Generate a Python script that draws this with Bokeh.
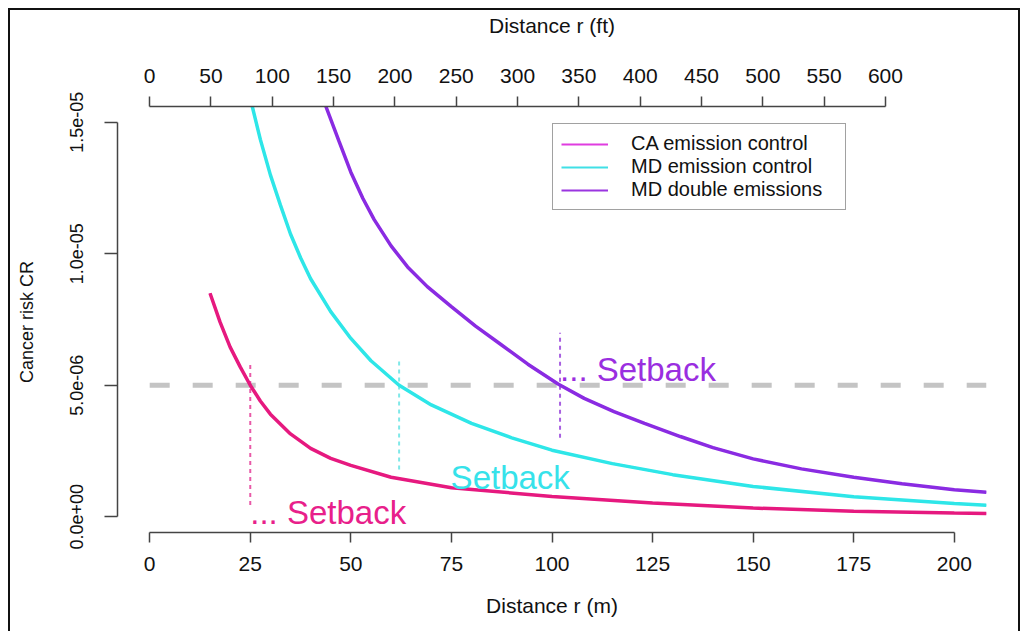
import math
from bokeh.plotting import figure
from bokeh.models import (Range1d, LinearAxis, FixedTicker, CustomJSTickFormatter,
                          Legend, LegendItem, ColumnDataSource)
from bokeh.embed import file_html
from bokeh.resources import INLINE
from bokeh.core.properties import value

# ---------------- data ----------------
r_ca = [15, 17.5, 20, 22.5, 25, 27.5, 30, 35, 40, 45, 50, 60, 75, 100, 125, 150, 175, 200, 208]
cr_ca = [8.5e-6, 7.4e-6, 6.45e-6, 5.7e-6, 5.0e-6, 4.4e-6, 3.9e-6, 3.15e-6, 2.6e-6, 2.22e-6,
         1.95e-6, 1.5e-6, 1.1e-6, 0.77e-6, 0.52e-6, 0.33e-6, 0.21e-6, 0.14e-6, 0.12e-6]

r_md = [25.5, 27.5, 30, 32.5, 35, 37.5, 40, 45, 50, 55, 62, 70, 80, 90, 100, 115, 130, 150,
        175, 200, 208]
cr_md = [15.6e-6, 14.35e-6, 13.0e-6, 11.85e-6, 10.75e-6, 9.85e-6, 9.05e-6, 7.8e-6, 6.78e-6,
         5.93e-6, 5.0e-6, 4.25e-6, 3.55e-6, 3.0e-6, 2.53e-6, 2.02e-6, 1.6e-6, 1.15e-6,
         0.76e-6, 0.5e-6, 0.44e-6]

r_dbl = [43.8, 47, 50, 53, 55.8, 60, 64.1, 69, 74.9, 81, 87.3, 94, 101.5, 108, 115.4, 123,
         131.9, 140, 150, 162, 175, 187, 200, 208]
cr_dbl = [15.6e-6, 14.3e-6, 13.1e-6, 12.1e-6, 11.3e-6, 10.3e-6, 9.5e-6, 8.75e-6, 8.0e-6,
          7.25e-6, 6.55e-6, 5.8e-6, 5.05e-6, 4.5e-6, 4.0e-6, 3.55e-6, 3.05e-6, 2.63e-6,
          2.2e-6, 1.82e-6, 1.5e-6, 1.25e-6, 1.03e-6, 0.93e-6]

series_names = ["CA emission control", "MD emission control", "MD double emissions"]
threshold = 5e-6
setback_r = [25, 62, 102]
setback_top = [5.85e-6, 5.9e-6, 7.0e-6]
setback_bottom = [0.45e-6, 1.8e-6, 3.0e-6]
setback_text = ["... Setback", "Setback", "... Setback"]
setback_label_x = [25, 74.8, 102]
setback_label_y = [0.15e-6, 1.5e-6, 5.6e-6]

m_ticks = [0, 25, 50, 75, 100, 125, 150, 175, 200]
ft_ticks = list(range(0, 601, 50))
cr_ticks = [0, 5e-6, 1e-5, 1.5e-5]
FT_PER_M = 3.28084

# ---------------- styles ----------------
curve_colors = ["#E6197F", "#2EE6E8", "#8A2BE2"]
legend_colors = ["#E03CE0", "#40E0E6", "#9A35E0"]
text_colors = ["#E8208A", "#36E2EA", "#9A2EE0"]
dot_colors = ["#E85AA8", "#7FE8E8", "#A860E0"]
FONT = "Liberation Sans"

p = figure(width=1012, height=623,
           x_range=Range1d(-8, 208), y_range=Range1d(-0.6e-6, 15.6e-6),
           output_backend="svg", toolbar_location=None,
           x_axis_location=None, y_axis_location=None,
           min_border_left=107, min_border_right=36,
           min_border_top=87, min_border_bottom=101)
p.outline_line_color = None
p.xgrid.visible = False
p.ygrid.visible = False
p.styles = {"margin-left": "8px", "margin-top": "8px",
            "border-left": "2px solid #111", "border-top": "2px solid #111",
            "border-right": "2px solid #111"}

p.extra_x_ranges = {"ft": Range1d(-8 * FT_PER_M, 208 * FT_PER_M)}


def style_axis(ax, tick_out=10, label_size="21px", title_size="21px"):
    ax.axis_line_color = "#444"
    ax.axis_line_width = 1.5
    ax.major_tick_line_color = "#444"
    ax.major_tick_line_width = 1.5
    ax.major_tick_in = 0
    ax.major_tick_out = tick_out
    ax.minor_tick_in = 0
    ax.minor_tick_out = 0
    ax.major_label_text_font = FONT
    ax.major_label_text_font_size = label_size
    ax.major_label_text_color = "#111"
    ax.axis_label_text_font = FONT
    ax.axis_label_text_font_size = title_size
    ax.axis_label_text_font_style = "normal"
    ax.axis_label_text_color = "#111"


xb = LinearAxis(axis_label="Distance r (m)", ticker=FixedTicker(ticks=m_ticks), bounds=(0, 200))
style_axis(xb)
xb.major_label_standoff = 14
xb.axis_label_standoff = 20
p.add_layout(xb, "below")

xt = LinearAxis(x_range_name="ft", axis_label="Distance r (ft)",
                ticker=FixedTicker(ticks=ft_ticks), bounds=(0, 600))
style_axis(xt)
xt.major_label_standoff = 14
xt.axis_label_standoff = 29
p.add_layout(xt, "above")

fmt = CustomJSTickFormatter(code="""
const s = tick.toExponential(1);
const m = s.match(/^(-?[0-9.]+)e([+-])([0-9]+)$/);
if (!m) return s;
let e = m[3];
if (e.length < 2) e = "0" + e;
return m[1] + "e" + m[2] + e;
""")
yl = LinearAxis(axis_label="Cancer risk  CR", ticker=FixedTicker(ticks=cr_ticks),
                bounds=(0, 1.5e-5), formatter=fmt)
style_axis(yl, tick_out=13, label_size="18px", title_size="18px")
yl.major_label_orientation = "parallel"
yl.major_label_standoff = 21
yl.axis_label_standoff = 31
p.add_layout(yl, "left")

# threshold dashed line
p.segment(x0=[0], y0=[threshold], x1=[208], y1=[threshold],
          line_color="#C4C4C4", line_width=5, line_dash="20 23")

# setback dotted lines
p.segment(x0=setback_r, y0=setback_bottom, x1=setback_r, y1=setback_top,
          line_color=dot_colors, line_width=2, line_dash="4 4")

# legend proxies (drawn underneath the real curves, carry the legend colours)
proxies = [
    p.line(r_ca, cr_ca, line_color=legend_colors[0], line_width=2),
    p.line(r_md, cr_md, line_color=legend_colors[1], line_width=2),
    p.line(r_dbl, cr_dbl, line_color=legend_colors[2], line_width=2),
]

# curves
p.line(r_ca, cr_ca, line_color=curve_colors[0], line_width=3.5)
p.line(r_md, cr_md, line_color=curve_colors[1], line_width=3.5)
p.line(r_dbl, cr_dbl, line_color=curve_colors[2], line_width=3.5)

# setback labels
src = ColumnDataSource(dict(x=setback_label_x, y=setback_label_y, t=setback_text, c=text_colors))
p.text(x="x", y="y", text="t", text_color="c", source=src,
       text_font=value(FONT), text_font_size="33px",
       text_align="left", text_baseline="alphabetic")

legend = Legend(items=[LegendItem(label=n, renderers=[r]) for n, r in zip(series_names, proxies)],
                location=(435, 322))
legend.border_line_color = "#444"
legend.border_line_width = 1.5
legend.background_fill_color = "white"
legend.background_fill_alpha = 1
legend.padding = 8
legend.spacing = 0
legend.margin = 0
legend.glyph_width = 47
legend.glyph_height = 20
legend.label_height = 20
legend.label_standoff = 23
legend.label_width = 206
legend.label_text_font = FONT
legend.label_text_font_size = "20px"
legend.label_text_color = "#111"
p.add_layout(legend)

open("out.html", "w").write(file_html(p, INLINE, "Cancer risk vs distance"))
